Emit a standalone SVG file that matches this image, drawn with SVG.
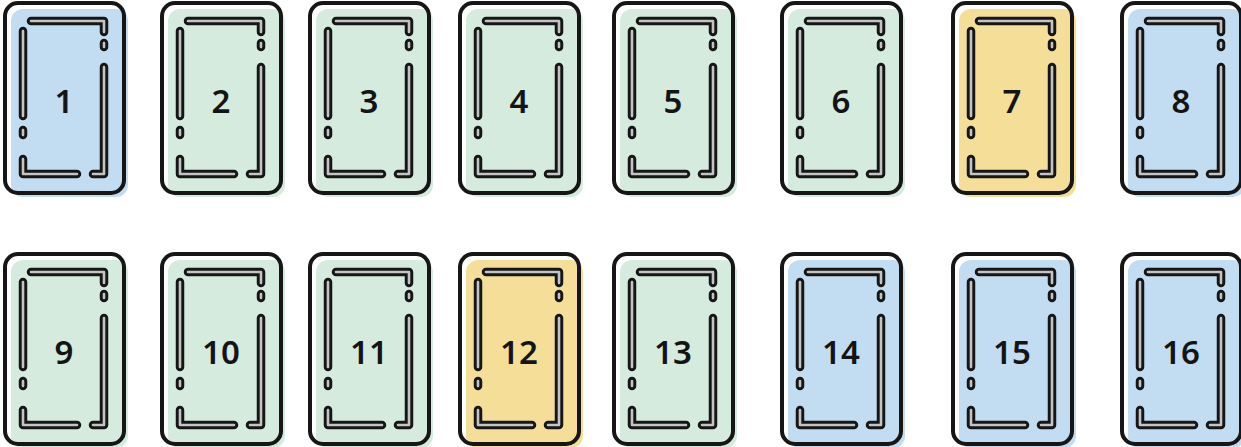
<svg xmlns="http://www.w3.org/2000/svg" xmlns:xlink="http://www.w3.org/1999/xlink" width="1241" height="447" viewBox="0 0 1241 447">
<style>
.bg{stroke:none}
.blue{fill:#c2dcf1}
.green{fill:#d5ebdd}
.yellow{fill:#f5df98}
.frame{fill:none;stroke:#161616;stroke-width:4}
.lo{fill:none;stroke:#161616;stroke-width:8.5;stroke-linecap:round;stroke-linejoin:round}
.li{fill:none;stroke:#c4c4c4;stroke-width:2.6;stroke-linecap:round;stroke-linejoin:round}
.num{font-family:"Noto Sans","Open Sans",sans-serif;font-weight:600;font-size:33px;fill:#141414;text-anchor:middle}
</style>
<defs>
<path id="dp" d="M26 18 H99 V29 M99 40 V44 M99 64 V171 H88 M18 28 V113 M18 127 V132 M18 156 V171 H72"/>
<g id="lines">
<use xlink:href="#dp" class="lo"/>
<use xlink:href="#dp" class="li"/>
</g>
<rect id="fr" x="0" y="0" width="119" height="190" rx="13"/>
</defs>
<rect width="1241" height="447" fill="#ffffff"/>
<g id="card1" transform="translate(5,3)"><rect class="bg blue" x="6" y="6" width="117" height="188" rx="12"/><use xlink:href="#fr" class="frame"/><use xlink:href="#lines"/><text class="num" x="59" y="110">1</text></g>
<g id="card2" transform="translate(162,3)"><rect class="bg green" x="6" y="6" width="117" height="188" rx="12"/><use xlink:href="#fr" class="frame"/><use xlink:href="#lines"/><text class="num" x="59" y="110">2</text></g>
<g id="card3" transform="translate(310,3)"><rect class="bg green" x="6" y="6" width="117" height="188" rx="12"/><use xlink:href="#fr" class="frame"/><use xlink:href="#lines"/><text class="num" x="59" y="110">3</text></g>
<g id="card4" transform="translate(460,3)"><rect class="bg green" x="6" y="6" width="117" height="188" rx="12"/><use xlink:href="#fr" class="frame"/><use xlink:href="#lines"/><text class="num" x="59" y="110">4</text></g>
<g id="card5" transform="translate(614,3)"><rect class="bg green" x="6" y="6" width="117" height="188" rx="12"/><use xlink:href="#fr" class="frame"/><use xlink:href="#lines"/><text class="num" x="59" y="110">5</text></g>
<g id="card6" transform="translate(782,3)"><rect class="bg green" x="6" y="6" width="117" height="188" rx="12"/><use xlink:href="#fr" class="frame"/><use xlink:href="#lines"/><text class="num" x="59" y="110">6</text></g>
<g id="card7" transform="translate(953,3)"><rect class="bg yellow" x="6" y="6" width="117" height="188" rx="12"/><use xlink:href="#fr" class="frame"/><use xlink:href="#lines"/><text class="num" x="59" y="110">7</text></g>
<g id="card8" transform="translate(1122,3)"><rect class="bg blue" x="6" y="6" width="117" height="188" rx="12"/><use xlink:href="#fr" class="frame"/><use xlink:href="#lines"/><text class="num" x="59" y="110">8</text></g>
<g id="card9" transform="translate(5,254)"><rect class="bg green" x="6" y="6" width="117" height="188" rx="12"/><use xlink:href="#fr" class="frame"/><use xlink:href="#lines"/><text class="num" x="59" y="110">9</text></g>
<g id="card10" transform="translate(162,254)"><rect class="bg green" x="6" y="6" width="117" height="188" rx="12"/><use xlink:href="#fr" class="frame"/><use xlink:href="#lines"/><text class="num" x="59" y="110">10</text></g>
<g id="card11" transform="translate(310,254)"><rect class="bg green" x="6" y="6" width="117" height="188" rx="12"/><use xlink:href="#fr" class="frame"/><use xlink:href="#lines"/><text class="num" x="59" y="110">11</text></g>
<g id="card12" transform="translate(460,254)"><rect class="bg yellow" x="6" y="6" width="117" height="188" rx="12"/><use xlink:href="#fr" class="frame"/><use xlink:href="#lines"/><text class="num" x="59" y="110">12</text></g>
<g id="card13" transform="translate(614,254)"><rect class="bg green" x="6" y="6" width="117" height="188" rx="12"/><use xlink:href="#fr" class="frame"/><use xlink:href="#lines"/><text class="num" x="59" y="110">13</text></g>
<g id="card14" transform="translate(782,254)"><rect class="bg blue" x="6" y="6" width="117" height="188" rx="12"/><use xlink:href="#fr" class="frame"/><use xlink:href="#lines"/><text class="num" x="59" y="110">14</text></g>
<g id="card15" transform="translate(953,254)"><rect class="bg blue" x="6" y="6" width="117" height="188" rx="12"/><use xlink:href="#fr" class="frame"/><use xlink:href="#lines"/><text class="num" x="59" y="110">15</text></g>
<g id="card16" transform="translate(1122,254)"><rect class="bg blue" x="6" y="6" width="117" height="188" rx="12"/><use xlink:href="#fr" class="frame"/><use xlink:href="#lines"/><text class="num" x="59" y="110">16</text></g>
<g id="connectors"/>
</svg>
